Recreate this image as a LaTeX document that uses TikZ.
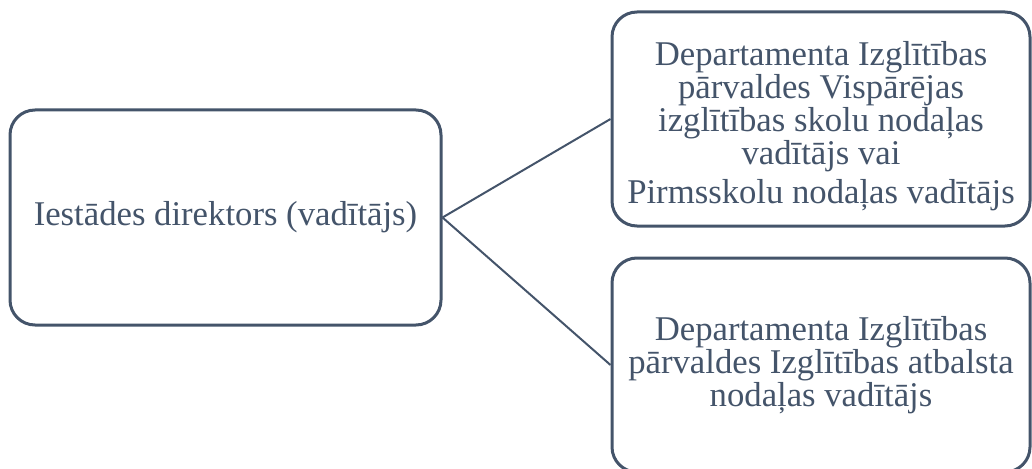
\documentclass[tikz,border=0pt]{standalone}
\usepackage{fontspec}
\setmainfont{Liberation Serif}
\definecolor{slate}{HTML}{44546A}
\begin{document}
\begin{tikzpicture}[x=1pt,y=-1pt,
  box/.style={draw=slate, line width=3pt, rounded corners=25pt, inner sep=0pt,
    text=slate, align=center, font=\fontsize{34.7}{33}\selectfont},
  link/.style={draw=slate, line width=2pt}]
\useasboundingbox (0,0) rectangle (1032,468);
\clip (0,0) rectangle (1032,468);
\node[box, minimum width=431pt, minimum height=215pt] (L) at (225.5,217.5) {Iestādes direktors (vadītājs)};
\node[box, minimum width=418pt, minimum height=214pt] (T) at (821,119)
  {\rule{0pt}{38pt}Departamenta Izglītības\\ pārvaldes Vispārējas\\ izglītības skolu nodaļas\\ vadītājs vai\\[6pt] Pirmsskolu nodaļas vadītājs};
\node[box, minimum width=418pt, minimum height=214pt] (B) at (821,365)
  {Departamenta Izglītības\\ pārvaldes Izglītības atbalsta\\ nodaļas vadītājs};
\draw[link] (L.east) -- (T.west);
\draw[link] (L.east) -- (B.west);
\end{tikzpicture}
\end{document}
